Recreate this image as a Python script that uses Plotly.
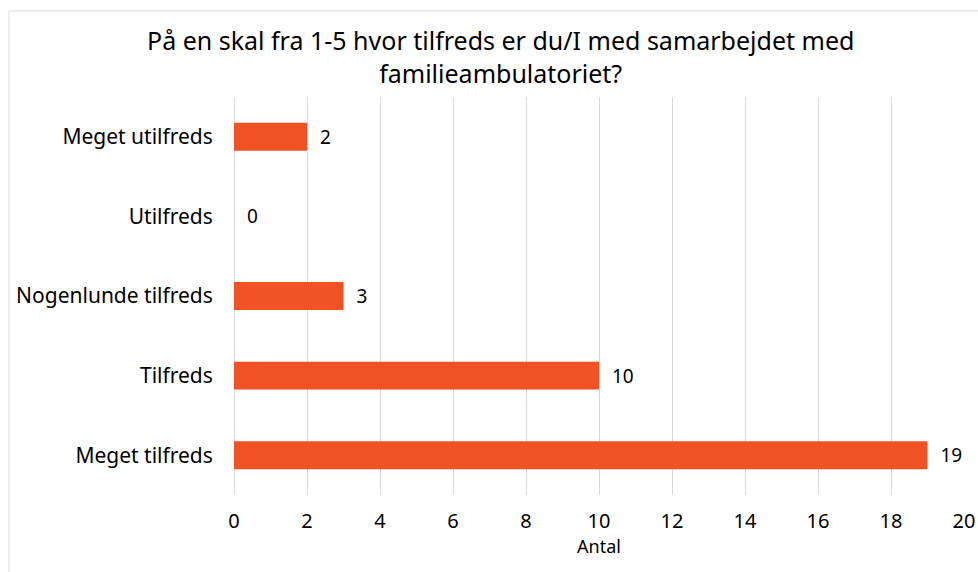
import plotly.graph_objects as go

categories = ["Meget utilfreds", "Utilfreds", "Nogenlunde tilfreds", "Tilfreds", "Meget tilfreds"]
values = [2, 0, 3, 10, 19]
x_ticks = [0, 2, 4, 6, 8, 10, 12, 14, 16, 18, 20]

title_text = "På en skal fra 1-5 hvor tilfreds er du/I med samarbejdet med<br>familieambulatoriet?"
x_title = "Antal"

FONT = "Noto Sans, Liberation Sans, sans-serif"
W, H = 978, 572
# target screen coordinates of the plot area
PX0, PX1, PY0, PY1 = 234, 964, 97, 495
L, T = PX0, PY0
R, B = W - PX1, H - PY1
PW, PH = PX1 - PX0, PY1 - PY0

fig = go.Figure(go.Bar(
    x=values,
    y=categories,
    orientation="h",
    marker=dict(color="#F05125", line=dict(width=0)),
    width=0.35,
    text=["  " + str(v) for v in values],
    textposition="outside",
    textfont=dict(size=19, color="#000000", family=FONT),
    cliponaxis=False,
))

fig.update_layout(
    width=W,
    height=H,
    margin=dict(l=L, r=R, t=T, b=B, autoexpand=False),
    paper_bgcolor="white",
    plot_bgcolor="white",
    font=dict(family=FONT, color="#000000"),
    showlegend=False,
    xaxis=dict(
        range=[0, 20],
        tickvals=x_ticks,
        automargin=False,
        showgrid=True,
        gridcolor="#D9D9D9",
        gridwidth=1,
        zeroline=True,
        zerolinecolor="#D9D9D9",
        zerolinewidth=1,
        showline=False,
        ticks="outside",
        ticklen=8,
        tickcolor="rgba(0,0,0,0)",
        tickfont=dict(size=20, color="#000000"),
        title=dict(text=x_title, font=dict(size=18, color="#000000"), standoff=2),
    ),
    yaxis=dict(
        autorange="reversed",
        automargin=False,
        showgrid=False,
        showline=False,
        ticks="outside",
        ticklen=16,
        tickcolor="rgba(0,0,0,0)",
        tickfont=dict(size=21, color="#000000"),
    ),
    annotations=[dict(
        text=title_text,
        xref="paper", yref="paper",
        x=(500 - PX0) / PW, y=1 + (PY0 - 56) / PH,
        xanchor="center", yanchor="middle",
        showarrow=False,
        font=dict(size=25, color="#000000", family=FONT),
        align="center",
    )],
    shapes=[dict(
        type="rect",
        xref="paper", yref="paper",
        x0=(9 - PX0) / PW, x1=(990 - PX0) / PW,
        y0=-(580 - PY1) / PH, y1=1 + (PY0 - 11) / PH,
        line=dict(color="#D9D9D9", width=1),
        fillcolor="rgba(0,0,0,0)",
        layer="below",
    )],
)

fig.write_html(
    "out.html",
    config={"displayModeBar": False},
    post_script="document.body.style.margin='0';document.body.style.overflow='hidden';",
)
